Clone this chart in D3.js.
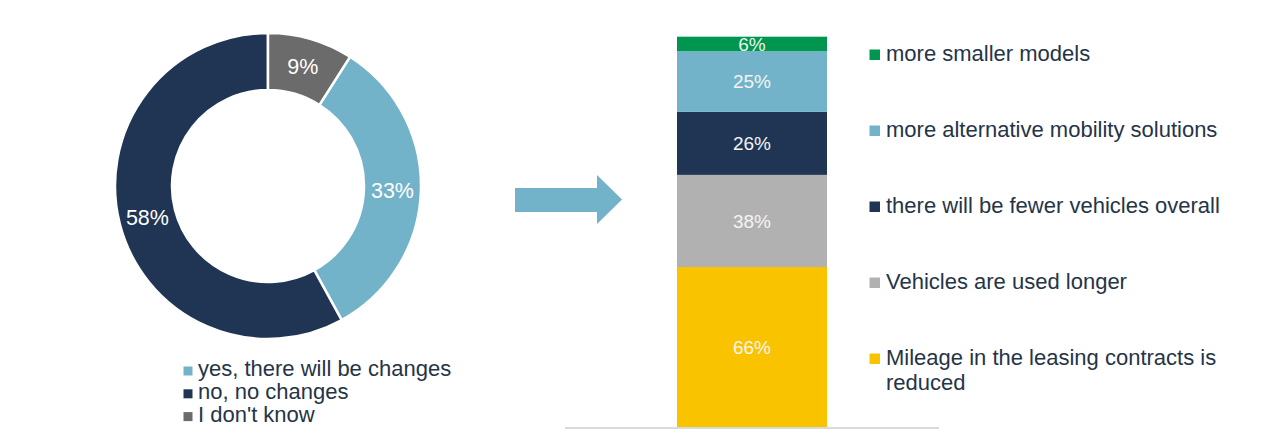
<!DOCTYPE html>
<html>
<head>
<meta charset="utf-8">
<script src="https://cdn.jsdelivr.net/npm/d3@7"></script>
<style>
  html, body { margin: 0; padding: 0; background: #ffffff; }
  svg { display: block; font-family: "Liberation Sans", Arial, sans-serif; }
</style>
</head>
<body>
<svg id="chart" width="1267" height="438"></svg>
<script>
// ---- Data ----
const donutCategories = ["yes, there will be changes", "no, no changes", "I don't know"];
const donutValues = [33, 58, 9];
const donutColors = ["#72b3ca", "#203554", "#6b6b6b"];

// stacked bar, listed from top to bottom
const barCategories = [
  "more smaller models",
  "more alternative mobility solutions",
  "there will be fewer vehicles overall",
  "Vehicles are used longer",
  "Mileage in the leasing contracts is reduced"
];
const barValues = [6, 25, 26, 38, 66];
const barColors = ["#00964f", "#72b3ca", "#203554", "#b1b1b1", "#f9c300"];
const barLegendLines = [
  ["more smaller models"],
  ["more alternative mobility solutions"],
  ["there will be fewer vehicles overall"],
  ["Vehicles are used longer"],
  ["Mileage in the leasing contracts is", "reduced"]
];

const textColor = "#253447";
const svg = d3.select("#chart");

// ---- Donut ----
const cx = 268, cy = 186, rOuter = 153, rInner = 96;
const total = d3.sum(donutValues);
const startA = 2 * Math.PI * donutValues[2] / total;
const pie = d3.pie().sort(null).value(d => d.v).startAngle(startA).endAngle(startA + 2 * Math.PI);
const arcs = pie(donutValues.map((v, i) => ({ v, i })));
const arc = d3.arc().innerRadius(rInner).outerRadius(rOuter);
const gD = svg.append("g").attr("transform", `translate(${cx},${cy})`);
gD.selectAll("path").data(arcs).join("path")
  .attr("d", arc)
  .attr("fill", d => donutColors[d.data.i])
  .attr("stroke", "#ffffff")
  .attr("stroke-width", 2.5);
gD.selectAll("text").data(arcs).join("text")
  .attr("transform", d => `translate(${arc.centroid(d)})`)
  .attr("text-anchor", "middle")
  .attr("dy", "0.36em")
  .attr("fill", "#ffffff")
  .attr("font-size", 21.5)
  .text(d => d.data.v + "%");

// donut legend
const gL = svg.append("g");
donutCategories.forEach((c, i) => {
  const by = 376 + i * 22.8;
  gL.append("rect").attr("x", 183.5).attr("y", by - 9.5).attr("width", 9).attr("height", 9)
    .attr("fill", donutColors[i]);
  gL.append("text").attr("x", 198).attr("y", by).attr("font-size", 22)
    .attr("fill", textColor).text(c);
});

// ---- Arrow ----
svg.append("path")
  .attr("d", "M515,188 L597,188 L597,175 L622,199.5 L597,224 L597,212 L515,212 Z")
  .attr("fill", "#72b3ca");

// ---- Stacked bar ----
const barTotal = d3.sum(barValues);
const y = d3.scaleLinear().domain([0, barTotal]).range([427, 36.7]);
const x = d3.scaleBand().domain(["all"]).range([565, 939]).paddingInner(0).paddingOuter(0.3);
// build stack bottom-up
const bottomUp = barValues.map((v, i) => ({ v, i })).reverse();
let acc = 0;
const segs = bottomUp.map(d => { const s = { ...d, y0: acc, y1: acc + d.v }; acc += d.v; return s; });
const bx = 677, bw = 150;
const gB = svg.append("g");
gB.selectAll("rect").data(segs).join("rect")
  .attr("x", bx).attr("width", bw)
  .attr("y", d => y(d.y1))
  .attr("height", d => y(d.y0) - y(d.y1))
  .attr("fill", d => barColors[d.i]);
gB.selectAll("text").data(segs).join("text")
  .attr("x", bx + bw / 2)
  .attr("y", d => (y(d.y0) + y(d.y1)) / 2)
  .attr("dy", "0.36em")
  .attr("text-anchor", "middle")
  .attr("font-size", 19)
  .attr("fill", d => d.i === 0 ? "#e6f5ec" : "#f4f4f4")
  .text(d => d.v + "%");

// baseline axis
svg.append("line").attr("x1", 565).attr("x2", 939).attr("y1", y(0) + 1).attr("y2", y(0) + 1)
  .attr("stroke", "#d6dbe0").attr("stroke-width", 2);

// bar legend
const gR = svg.append("g");
barLegendLines.forEach((lines, i) => {
  const by = 61 + i * 76;
  gR.append("rect").attr("x", 869.5).attr("y", by - 11.5).attr("width", 10.5).attr("height", 10.5)
    .attr("fill", barColors[i]);
  lines.forEach((ln, j) => {
    gR.append("text").attr("x", 886).attr("y", by + j * 24.5).attr("font-size", 22)
      .attr("fill", textColor).text(ln);
  });
});
</script>
</body>
</html>
